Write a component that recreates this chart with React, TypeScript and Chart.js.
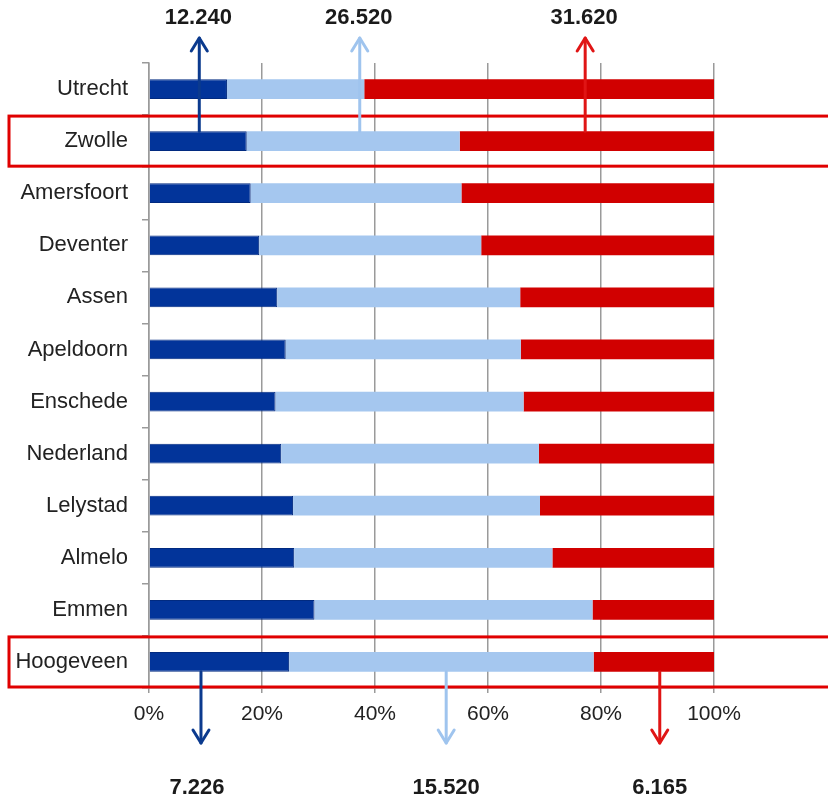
import React, { useEffect, useRef } from "react";
import { Chart, registerables } from "chart.js";

Chart.register(...registerables);

const categories = [
  "Utrecht", "Zwolle", "Amersfoort", "Deventer", "Assen", "Apeldoorn",
  "Enschede", "Nederland", "Lelystad", "Almelo", "Emmen", "Hoogeveen",
];
const darkValues = [13.8, 17.3, 18.0, 19.5, 22.7, 24.2, 22.4, 23.4, 25.5, 25.7, 29.3, 24.8];
const lightValues = [24.3, 37.7, 37.3, 39.3, 43.0, 41.6, 43.9, 45.6, 43.7, 45.7, 49.2, 53.9];
const redValues = [61.9, 45.0, 44.7, 41.2, 34.3, 34.2, 33.7, 31.0, 30.8, 28.6, 21.5, 21.3];
const xTicks = [0, 20, 40, 60, 80, 100];

// annotations: arrow positions in % along the x axis
const topLabels = ["12.240", "26.520", "31.620"];
const topArrowX = [8.9, 37.3, 77.2];
const bottomLabels = ["7.226", "15.520", "6.165"];
const bottomArrowX = [9.2, 52.6, 90.4];
const highlighted = ["Zwolle", "Hoogeveen"];

const DARK = "#02349a";
const LIGHT = "#a5c7ef";
const RED = "#d10000";
const ARROW_COLORS = ["#0b3a8e", "#9fc4ee", "#e01515"];

function drawArrow(ctx: CanvasRenderingContext2D, x: number, y0: number, y1: number, color: string) {
  const dir = y1 < y0 ? -1 : 1;
  ctx.save();
  ctx.strokeStyle = color;
  ctx.lineWidth = 3;
  ctx.lineCap = "round";
  ctx.lineJoin = "round";
  ctx.beginPath();
  ctx.moveTo(x, y0);
  ctx.lineTo(x, y1);
  ctx.stroke();
  ctx.beginPath();
  ctx.moveTo(x - 8, y1 - dir * 13);
  ctx.lineTo(x, y1);
  ctx.lineTo(x + 8, y1 - dir * 13);
  ctx.stroke();
  ctx.restore();
}

const annotationPlugin = {
  id: "annotations",
  afterDraw(chart: any) {
    const ctx: CanvasRenderingContext2D = chart.ctx;
    const xs = chart.scales.x;
    const ys = chart.scales.y;
    const area = chart.chartArea;
    const band = (ys.getPixelForValue(1) - ys.getPixelForValue(0));

    // highlight boxes
    ctx.save();
    ctx.strokeStyle = "#e00000";
    ctx.lineWidth = 3;
    highlighted.forEach((name) => {
      const idx = categories.indexOf(name);
      const cy = ys.getPixelForValue(idx);
      ctx.strokeRect(9, cy - band / 2 + 1, chart.width + 20, band - 2);
    });
    ctx.restore();

    const meta = chart.getDatasetMeta(0);
    const topIdx = categories.indexOf("Zwolle");
    const botIdx = categories.indexOf("Hoogeveen");
    const topBar = meta.data[topIdx];
    const botBar = meta.data[botIdx];
    const topStart = topBar.y - topBar.height / 2;
    const botStart = botBar.y + botBar.height / 2;

    ctx.save();
    ctx.font = "bold 22px 'Liberation Sans', Arial, sans-serif";
    ctx.fillStyle = "#1a1a1a";
    ctx.textAlign = "center";
    ctx.textBaseline = "middle";
    topArrowX.forEach((v, i) => {
      const x = xs.getPixelForValue(v);
      drawArrow(ctx, x, topStart, area.top - 25, ARROW_COLORS[i]);
      ctx.fillText(topLabels[i], x - 1, 18);
    });
    bottomArrowX.forEach((v, i) => {
      const x = xs.getPixelForValue(v);
      drawArrow(ctx, x, botStart, area.bottom + 55, ARROW_COLORS[i]);
      ctx.fillText(bottomLabels[i], x - (i === 0 ? 4 : 0), 788);
    });
    ctx.restore();
  },
};

export default function App() {
  const ref = useRef<HTMLCanvasElement | null>(null);
  useEffect(() => {
    document.body.style.margin = "0";
    if (!ref.current) return;
    const chart = new Chart(ref.current, {
      type: "bar",
      data: {
        labels: categories,
        datasets: [
          { label: "Laag", data: darkValues, backgroundColor: DARK, borderColor: "#012a80", borderWidth: 1 },
          { label: "Midden", data: lightValues, backgroundColor: LIGHT },
          { label: "Hoog", data: redValues, backgroundColor: RED },
        ],
      },
      options: {
        indexAxis: "y",
        responsive: false,
        animation: false,
        devicePixelRatio: 1,
        layout: { padding: { top: 63, right: 114, left: 0, bottom: 0 } },
        datasets: { bar: { barPercentage: 0.38, categoryPercentage: 1 } },
        plugins: { legend: { display: false }, tooltip: { enabled: false } },
        scales: {
          x: {
            stacked: true,
            min: 0,
            max: 100,
            afterFit: (s: any) => { s.height = 112; },
            afterBuildTicks: (s: any) => { s.ticks = xTicks.map((v) => ({ value: v })); },
            ticks: {
              callback: (v: any) => v + "%",
              font: { size: 21, family: "'Liberation Sans', Arial, sans-serif" },
              color: "#222",
              padding: 9,
              maxRotation: 0,
            },
            grid: { color: "#9a9a9a", lineWidth: 1.5, tickLength: 5 },
            border: { color: "#9a9a9a", width: 1.5 },
          },
          y: {
            stacked: true,
            afterFit: (s: any) => { s.width = 149; },
            ticks: {
              font: { size: 22, family: "'Liberation Sans', Arial, sans-serif" },
              color: "#222",
              padding: 14,
            },
            grid: { drawOnChartArea: false, color: "#9a9a9a", lineWidth: 1.5, tickLength: 7, offset: true },
            border: { color: "#9a9a9a", width: 1.5 },
          },
        },
      },
      plugins: [annotationPlugin],
    } as any);
    return () => chart.destroy();
  }, []);
  return <canvas ref={ref} width={828} height={800} style={{ display: "block" }} />;
}
